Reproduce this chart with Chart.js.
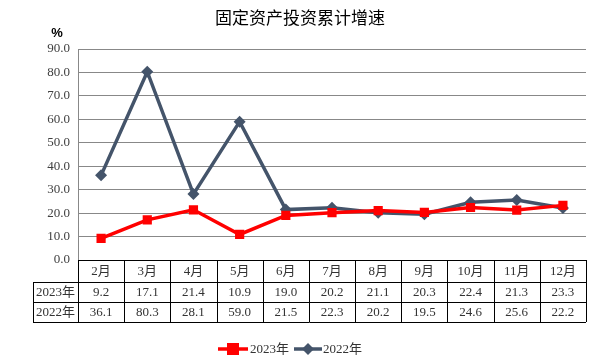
<!DOCTYPE html>
<html>
<head>
<meta charset="utf-8">
<script src="https://cdn.jsdelivr.net/npm/chart.js@4"></script>
<style>
  html, body { margin: 0; padding: 0; background: #fff; }
  #wrap { width: 598px; height: 360px; }
</style>
</head>
<body>
<div id="wrap"><canvas id="chart" width="598" height="360"></canvas></div>
<script>
const months = ['2月', '3月', '4月', '5月', '6月', '7月', '8月', '9月', '10月', '11月', '12月'];
const growth2023 = [9.2, 17.1, 21.4, 10.9, 19.0, 20.2, 21.1, 20.3, 22.4, 21.3, 23.3];
const growth2022 = [36.1, 80.3, 28.1, 59.0, 21.5, 22.3, 20.2, 19.5, 24.6, 25.6, 22.2];
const seriesNames = ['2023年', '2022年'];

const FONT = '"Liberation Serif", "Noto Sans CJK SC", serif';
const RED = '#ff0000';
const SLATE = '#44546a';

// draws title, % label, data table and legend
const extras = {
  id: 'extras',
  afterDraw(chart) {
    const ctx = chart.ctx;
    const area = chart.chartArea;
    const x = chart.scales.x;
    const colW = (area.right - area.left) / months.length;
    ctx.save();

    ctx.fillStyle = '#000';
    ctx.font = '17px "Noto Sans CJK SC", sans-serif';
    ctx.textAlign = 'center';
    ctx.textBaseline = 'middle';
    ctx.fillText('固定资产投资累计增速', 300, 18);

    ctx.font = 'bold 13px "Liberation Sans", sans-serif';
    ctx.fillText('%', 57, 33);

    // table
    const rows = [area.bottom, area.bottom + 22, area.bottom + 42, area.bottom + 62];
    const leftX = 33;
    ctx.strokeStyle = '#000';
    ctx.lineWidth = 1;
    ctx.beginPath();
    ctx.moveTo(area.left, rows[0] + 0.5); ctx.lineTo(area.right, rows[0] + 0.5);
    for (let r = 1; r < rows.length; r++) {
      ctx.moveTo(leftX, rows[r] + 0.5); ctx.lineTo(area.right, rows[r] + 0.5);
    }
    ctx.moveTo(leftX + 0.5, rows[1]); ctx.lineTo(leftX + 0.5, rows[3]);
    for (let i = 0; i <= months.length; i++) {
      const cx = Math.round(area.left + colW * i) + 0.5;
      ctx.moveTo(cx, rows[0]); ctx.lineTo(cx, rows[3]);
    }
    ctx.stroke();

    ctx.fillStyle = '#333';
    ctx.font = '13px ' + FONT;
    months.forEach((m, i) => {
      const cx = x.getPixelForValue(i);
      ctx.fillText(m, cx, (rows[0] + rows[1]) / 2 + 1);
      ctx.fillText(growth2023[i].toFixed(1), cx, (rows[1] + rows[2]) / 2 + 1);
      ctx.fillText(growth2022[i].toFixed(1), cx, (rows[2] + rows[3]) / 2 + 1);
    });
    const labX = (leftX + area.left) / 2;
    ctx.fillText(seriesNames[0], labX, (rows[1] + rows[2]) / 2 + 1);
    ctx.fillText(seriesNames[1], labX, (rows[2] + rows[3]) / 2 + 1);

    // legend
    const ly = 349;
    ctx.lineWidth = 3.5;
    ctx.strokeStyle = RED;
    ctx.beginPath(); ctx.moveTo(218, ly); ctx.lineTo(248, ly); ctx.stroke();
    ctx.fillStyle = RED;
    ctx.fillRect(227, ly - 6, 12, 12);
    ctx.strokeStyle = SLATE;
    ctx.beginPath(); ctx.moveTo(294, ly); ctx.lineTo(322, ly); ctx.stroke();
    ctx.fillStyle = SLATE;
    ctx.beginPath();
    ctx.moveTo(308, ly - 6); ctx.lineTo(314, ly); ctx.lineTo(308, ly + 6); ctx.lineTo(302, ly);
    ctx.closePath(); ctx.fill();
    ctx.fillStyle = '#333';
    ctx.textAlign = 'left';
    ctx.fillText(seriesNames[0], 250, ly + 1);
    ctx.fillText(seriesNames[1], 323, ly + 1);
    ctx.restore();
  }
};

new Chart(document.getElementById('chart'), {
  type: 'line',
  data: {
    labels: months,
    datasets: [
      {
        label: seriesNames[0],
        data: growth2023,
        borderColor: RED,
        backgroundColor: RED,
        borderWidth: 3.5,
        pointStyle: 'rect',
        pointRadius: 6.5,
        pointBorderWidth: 0,
        tension: 0
      },
      {
        label: seriesNames[1],
        data: growth2022,
        borderColor: SLATE,
        backgroundColor: SLATE,
        borderWidth: 3.5,
        pointStyle: 'rectRot',
        pointRadius: 6,
        pointBorderWidth: 0,
        tension: 0
      }
    ]
  },
  options: {
    responsive: false,
    animation: false,
    layout: { padding: { top: 49, right: 12, bottom: 100, left: 0 } },
    scales: {
      x: {
        offset: true,
        ticks: { display: false },
        grid: { display: false },
        border: { display: false },
        afterFit(scale) { scale.height = 0; }
      },
      y: {
        min: 0,
        max: 90,
        ticks: {
          stepSize: 10,
          color: '#404040',
          font: { family: FONT, size: 13 },
          padding: 8,
          callback: v => v.toFixed(1)
        },
        grid: { color: '#888', lineWidth: 1, drawTicks: false },
        border: { display: true, color: '#888' },
        afterFit(scale) { scale.width = 78; }
      }
    },
    plugins: {
      legend: { display: false },
      title: { display: false },
      tooltip: { enabled: false }
    }
  },
  plugins: [extras]
});
</script>
</body>
</html>
